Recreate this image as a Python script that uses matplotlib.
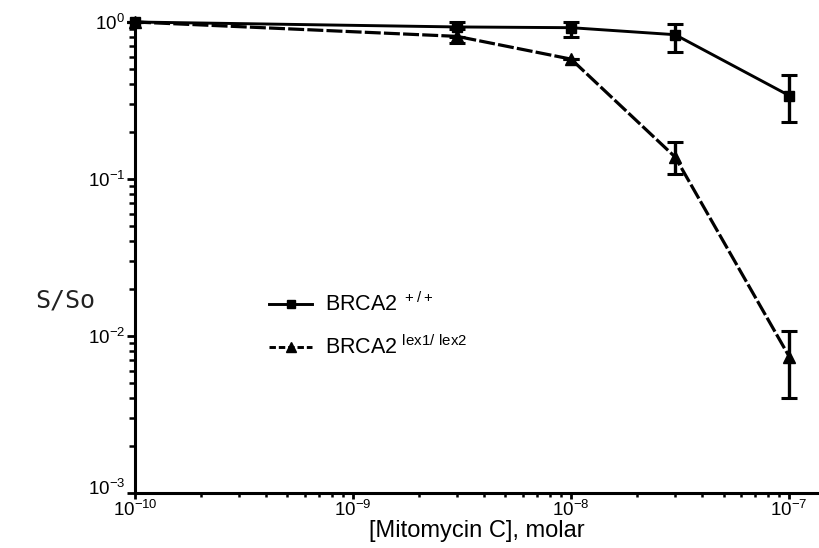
import numpy as np
import matplotlib.pyplot as plt
import matplotlib as mpl
from matplotlib.lines import Line2D
from matplotlib.transforms import ScaledTranslation
from matplotlib.ticker import LogLocator, FixedLocator, NullFormatter

mpl.rcParams['font.family'] = 'Liberation Sans'
mpl.rcParams['mathtext.default'] = 'regular'

# mitomycin C dose (molar)
dose = [1e-10, 3e-9, 1e-8, 3e-8, 1e-7]

# BRCA2 +/+ survival and error bar ends
wt = [1.0, 0.93, 0.92, 0.83, 0.34]
wt_lo = [1.0, 0.80, 0.80, 0.64, 0.23]
wt_hi = [1.0, 1.0, 1.0, 0.97, 0.46]

# BRCA2 lex1/lex2 survival and error bar ends
mut = [1.0, 0.81, 0.58, 0.138, 0.0074]
mut_lo = [1.0, 0.74, 0.58, 0.108, 0.0040]
mut_hi = [1.0, 0.90, 0.58, 0.172, 0.0108]

xticks = [1e-10, 1e-9, 1e-8, 1e-7]
xticklabels = ['$10^{-10}$', '$10^{-9}$', '$10^{-8}$', '$10^{-7}$']
yticks = [1e-3, 1e-2, 1e-1, 1e0]
yticklabels = ['$10^{-3}$', '$10^{-2}$', '$10^{-1}$', '$10^{0}$']

fig = plt.figure(figsize=(8.19, 5.48), dpi=100)
ax = fig.add_axes([135/819, 55/548, 1 - 135/819, (493-22)/548])

def errs(v, lo, hi):
    v = np.array(v); return [v - np.array(lo), np.array(hi) - v]

dash = (0, (5, 1))
ax.errorbar(dose, wt, yerr=errs(wt, wt_lo, wt_hi), color='black', lw=2.1,
            marker='s', ms=7, capsize=6, capthick=2.2, elinewidth=2.4,
            clip_on=False, zorder=3)
ax.errorbar(dose, mut, yerr=errs(mut, mut_lo, mut_hi), color='black', lw=2.3,
            ls=dash, marker='^', ms=8.5, capsize=6, capthick=2.2,
            elinewidth=2.4, clip_on=False, zorder=3)

ax.set_xscale('log')
ax.set_yscale('log')
ax.set_xlim(1e-10, 1.37e-7)
ax.set_ylim(1e-3, 1.0)

ax.xaxis.set_major_locator(FixedLocator(xticks))
ax.set_xticklabels(xticklabels, fontsize=13.5)
ax.yaxis.set_major_locator(FixedLocator(yticks))
ax.set_yticklabels(yticklabels, fontsize=13.5)
for a in (ax.xaxis, ax.yaxis):
    a.set_minor_locator(LogLocator(base=10, subs=np.arange(2, 10)))
    a.set_minor_formatter(NullFormatter())

ax.spines['top'].set_visible(False)
ax.spines['right'].set_visible(False)
ax.spines['left'].set_linewidth(2.2)
ax.spines['bottom'].set_linewidth(2.2)
ax.tick_params(axis='y', which='major', direction='out', length=6, width=2, pad=1)
ax.tick_params(axis='y', which='minor', direction='out', length=4, width=1.8)
ax.tick_params(axis='x', which='major', direction='out', length=4, width=2, pad=1)
ax.tick_params(axis='x', which='minor', direction='out', length=3, width=1.8)

# lift the bottom y label a little so it clears the first x label
lbl = ax.get_yticklabels()[0]
lbl.set_transform(lbl.get_transform() + ScaledTranslation(0, 4/72, fig.dpi_scale_trans))

ax.set_xlabel('[Mitomycin C], molar', fontsize=17, labelpad=0)
fig.text(65/819, 1 - 300/548, 'S/So', family='DejaVu Sans Mono', fontsize=18,
         ha='center', va='center', color='#222222')

handles = [Line2D([], [], color='black', lw=2.1, marker='s', ms=6),
           Line2D([], [], color='black', lw=2.1, ls=(0, (2.2, 1)), marker='^', ms=7.5)]
labels = ['BRCA2$^{\\ +/+}$', 'BRCA2$^{\\ lex1/\\ lex2}$']
ax.legend(handles, labels, loc='center left', bbox_to_anchor=(250/819, 1 - 326/548),
          bbox_transform=fig.transFigure, frameon=False, fontsize=15.5,
          handlelength=2.0, labelspacing=0.9, handletextpad=0.6)

fig.savefig('out.png', dpi=100)
